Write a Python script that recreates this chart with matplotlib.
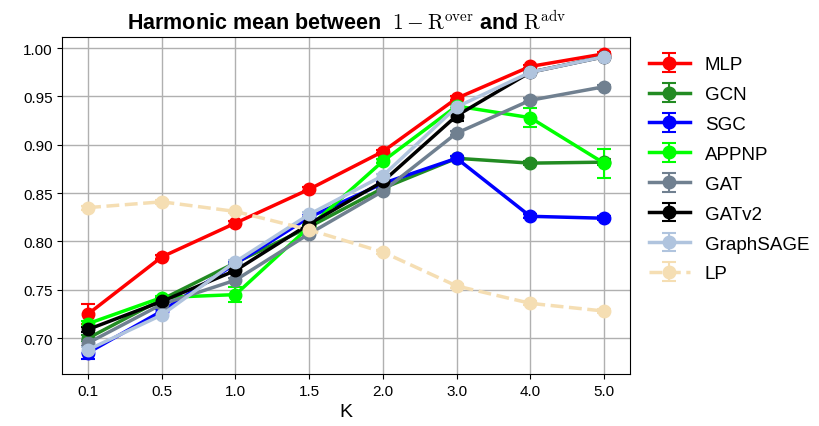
import matplotlib
matplotlib.use("Agg")
import matplotlib.pyplot as plt
import numpy as np

plt.rcParams['font.family'] = ['Liberation Sans', 'DejaVu Sans']
plt.rcParams['mathtext.fontset'] = 'cm'

k_labels = ['0.1', '0.5', '1.0', '1.5', '2.0', '3.0', '4.0', '5.0']

models = ['MLP', 'GCN', 'SGC', 'APPNP', 'GAT', 'GATv2', 'GraphSAGE', 'LP']
colors = ['red', 'forestgreen', 'blue', 'lime', 'slategray', 'black',
          'lightsteelblue', 'wheat']

mlp = [0.725, 0.784, 0.819, 0.854, 0.893, 0.948, 0.981, 0.994]
gcn = [0.700, 0.740, 0.778, 0.815, 0.855, 0.886, 0.881, 0.882]
sgc = [0.685, 0.728, 0.777, 0.825, 0.860, 0.886, 0.826, 0.824]
appnp = [0.715, 0.742, 0.745, 0.815, 0.883, 0.940, 0.928, 0.881]
gat = [0.695, 0.735, 0.760, 0.808, 0.852, 0.912, 0.946, 0.960]
gatv2 = [0.709, 0.738, 0.770, 0.818, 0.862, 0.930, 0.975, 0.991]
sage = [0.688, 0.724, 0.779, 0.828, 0.868, 0.939, 0.975, 0.991]
lp = [0.835, 0.841, 0.831, 0.812, 0.789, 0.754, 0.736, 0.728]

mlp_err = [0.010, 0.002, 0.002, 0.002, 0.002, 0.002, 0.002, 0.002]
gcn_err = [0.003, 0.002, 0.002, 0.002, 0.002, 0.002, 0.002, 0.003]
sgc_err = [0.007, 0.002, 0.002, 0.002, 0.002, 0.002, 0.002, 0.002]
appnp_err = [0.003, 0.002, 0.008, 0.002, 0.002, 0.002, 0.010, 0.015]
gat_err = [0.003, 0.002, 0.002, 0.002, 0.002, 0.002, 0.002, 0.002]
gatv2_err = [0.003, 0.002, 0.002, 0.002, 0.002, 0.005, 0.002, 0.002]
sage_err = [0.003, 0.002, 0.002, 0.002, 0.002, 0.002, 0.002, 0.002]
lp_err = [0.002, 0.002, 0.002, 0.002, 0.002, 0.002, 0.002, 0.002]

series = [mlp, gcn, sgc, appnp, gat, gatv2, sage, lp]
errors = [mlp_err, gcn_err, sgc_err, appnp_err, gat_err, gatv2_err, sage_err, lp_err]

x = np.arange(len(k_labels))

fig, ax = plt.subplots(figsize=(8.2, 4.27), dpi=100)
for name, col, y, e in zip(models, colors, series, errors):
    ls = '--' if name == 'LP' else '-'
    ax.errorbar(x, y, yerr=e, label=name, color=col, linestyle=ls,
                linewidth=2.5, marker='o', markersize=9, capsize=5,
                elinewidth=1.5, capthick=1.5)

ax.set_xticks(x)
ax.set_xticklabels(k_labels)
ax.set_ylim(0.663, 1.011)
ax.set_yticks([0.70, 0.75, 0.80, 0.85, 0.90, 0.95, 1.00])
ax.tick_params(labelsize=11)
ax.grid(True, color='#b0b0b0', linewidth=1)
ax.set_axisbelow(True)
ax.set_xlabel('K', fontsize=14)
ax.set_title(r'Harmonic mean between  $1-\mathrm{R}^{\mathrm{over}}$ and $\mathrm{R}^{\mathrm{adv}}$',
             fontsize=15.5, fontweight='bold')
ax.legend(loc='upper left', bbox_to_anchor=(1.0, 1.0), frameon=False,
          fontsize=13.5, labelspacing=0.68, handlelength=2.2,
          borderaxespad=0.6)

fig.subplots_adjust(left=0.076, right=0.768, top=0.91, bottom=0.122)
plt.savefig('out.png')
